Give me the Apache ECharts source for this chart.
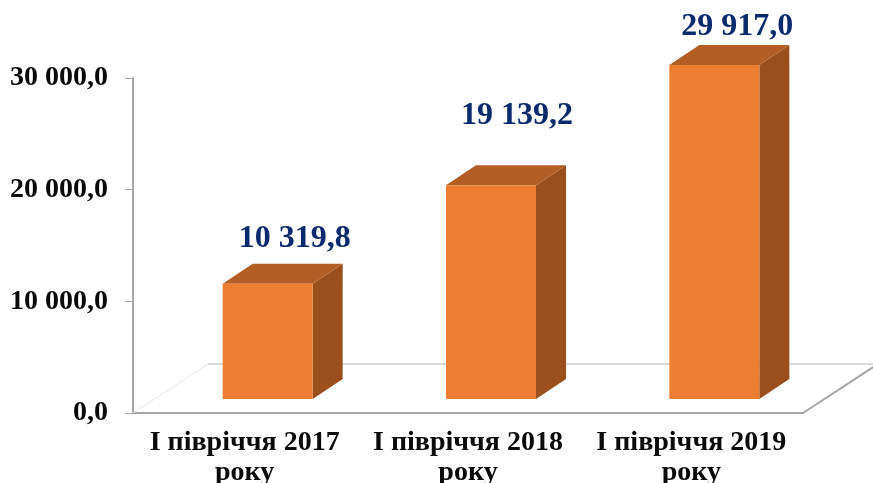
<!DOCTYPE html>
<html><head><meta charset="utf-8">
<style>html,body{margin:0;padding:0;background:#fff}#c{width:873px;height:483px}</style>
<script src="https://cdn.jsdelivr.net/npm/echarts@6/dist/echarts.min.js"></script>
</head><body><div id="c"></div>
<script>
const categories = ['І півріччя 2017\nроку', 'І півріччя 2018\nроку', 'І півріччя 2019\nроку'];
const values = [10319.8, 19139.2, 29917.0];
const yTicks = { min: 0, max: 30000, interval: 10000 };
// hand placement of the value labels in the original, relative to the bar's back top edge
const labelLift = [25, 50, 18];
const labelNudge = [0, -1, -4];

const FONT = '"Liberation Serif"';
const DEPTH_X = 30, DEPTH_Y = 20, FLOOR_X = 75, FLOOR_Y = 49;
const FRONT_SHIFT_X = 23, FRONT_SHIFT_Y = 14, BAR_W = 90;

const fmt = v => {
  const [a, b] = v.toFixed(1).split('.');
  return a.replace(/\B(?=(\d{3})+$)/g, ' ') + ',' + b;
};

function renderFloor(params, api) {
  const cs = params.coordSys;
  const y0 = cs.y + cs.height, xL = cs.x, xR = cs.x + cs.width;
  const backY = y0 - FLOOR_Y;
  const line = (x1, y1, x2, y2, stroke, w) => ({
    type: 'line', shape: { x1, y1, x2, y2 }, style: { stroke, lineWidth: w }, silent: true
  });
  return { type: 'group', children: [
    line(xL, y0, xL + FLOOR_X, backY, '#E6E6E6', 1),
    line(xL + FLOOR_X, backY, xR + FLOOR_X, backY, '#D9D9D9', 2),
    line(xR, y0, xR + FLOOR_X, backY, '#A6A6A6', 2)
  ]};
}

function renderBar(params, api) {
  const i = api.value(0), v = api.value(1);
  const c = api.coord([i, v]), c0 = api.coord([i, 0]);
  const x = c[0] + FRONT_SHIFT_X - BAR_W / 2, r = x + BAR_W;
  const top = c[1] - FRONT_SHIFT_Y, bot = c0[1] - FRONT_SHIFT_Y;
  const poly = (points, fill) => ({ type: 'polygon', shape: { points }, style: { fill } });
  return { type: 'group', children: [
    poly([[r, top], [r + DEPTH_X, top - DEPTH_Y], [r + DEPTH_X, bot - DEPTH_Y], [r, bot]], '#9A4F1D'),
    poly([[x, top], [x + DEPTH_X, top - DEPTH_Y], [r + DEPTH_X, top - DEPTH_Y], [r, top]], '#B35E24'),
    poly([[x, top], [r, top], [r, bot], [x, bot]], '#ED7D31'),
    { type: 'text', style: {
        x: x + BAR_W / 2 + DEPTH_X - 3 + labelNudge[i], y: top - DEPTH_Y - labelLift[i],
        text: fmt(v), align: 'center', verticalAlign: 'middle',
        font: 'bold 32px ' + FONT, fill: '#0B2A6B'
    }}
  ]};
}

const chart = echarts.init(document.getElementById('c'), null, { renderer: 'canvas' });
chart.setOption({
  animation: false,
  backgroundColor: '#fff',
  grid: { left: 133, right: 70, top: 78, bottom: 70, outerBoundsMode: 'none' },
  xAxis: {
    type: 'category', data: categories,
    axisLine: { lineStyle: { color: '#A6A6A6', width: 2 } },
    axisTick: { length: 8, lineStyle: { color: '#A6A6A6', width: 1 } },
    axisLabel: { fontFamily: FONT, fontWeight: 'bold', fontSize: 28, color: '#0A0A0A', lineHeight: 30, margin: 15, interval: 0 }
  },
  yAxis: {
    type: 'value', min: yTicks.min, max: yTicks.max, interval: yTicks.interval,
    splitLine: { show: false },
    axisLine: { show: true, lineStyle: { color: '#A6A6A6', width: 2 } },
    axisTick: { show: true, length: 8, lineStyle: { color: '#A6A6A6', width: 1 } },
    axisLabel: { fontFamily: FONT, fontWeight: 'bold', fontSize: 28, color: '#0A0A0A', margin: 25, formatter: v => fmt(v) }
  },
  series: [
    { type: 'custom', renderItem: renderFloor, data: [[0, 0]], encode: { x: 0, y: 1 }, z: 1, silent: true },
    { type: 'custom', renderItem: renderBar, data: values.map((v, i) => [i, v]), encode: { x: 0, y: 1 }, z: 2, clip: false }
  ]
});
</script></body></html>
